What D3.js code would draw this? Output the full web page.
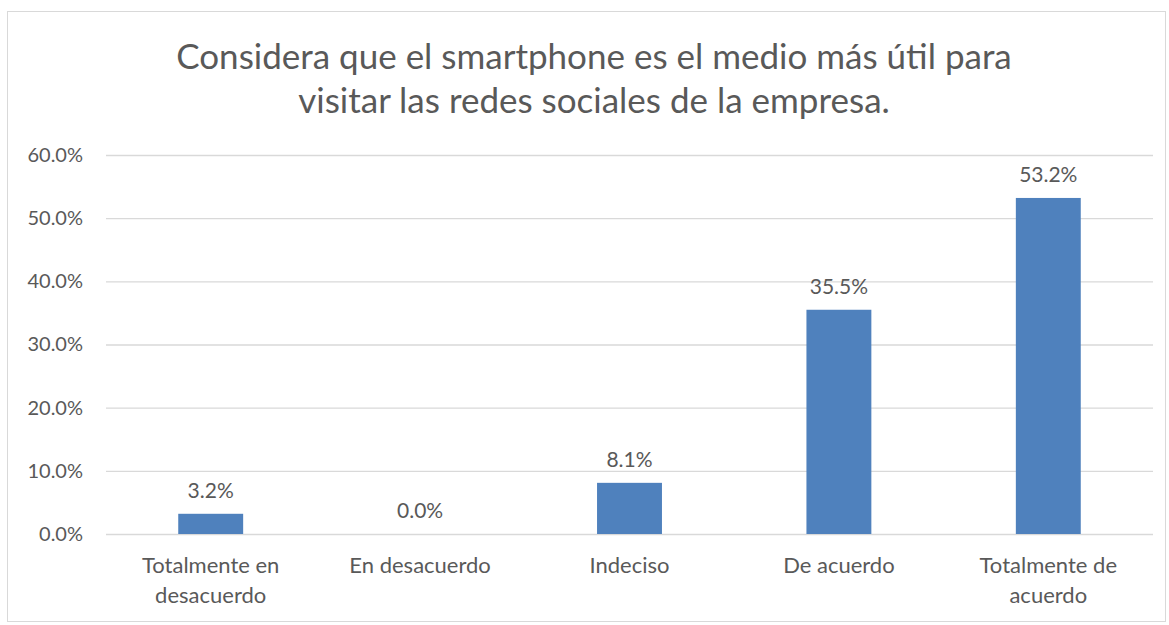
<!DOCTYPE html>
<html lang="es">
<head>
<meta charset="UTF-8">
<title>Smartphone redes sociales</title>
<script src="https://cdn.jsdelivr.net/npm/d3@7"></script>
<style>
  body { margin: 0; background: #fff; }
  svg text { font-family: Lato, "Open Sans", sans-serif; fill: #595959; }
</style>
</head>
<body>
<svg width="1169" height="625"></svg>
<script>
// chart data
const categories = ["Totalmente en desacuerdo", "En desacuerdo", "Indeciso", "De acuerdo", "Totalmente de acuerdo"];
const categoryLines = [["Totalmente en", "desacuerdo"], ["En desacuerdo"], ["Indeciso"], ["De acuerdo"], ["Totalmente de", "acuerdo"]];
const values = [0.032, 0.0, 0.081, 0.355, 0.532];
const yTicks = [0, 0.1, 0.2, 0.3, 0.4, 0.5, 0.6];
const titleLines = ["Considera que el smartphone es el medio más útil para", "visitar las redes sociales de la empresa."];

const svg = d3.select("svg");

// outer frame
svg.append("rect")
  .attr("x", 7.5).attr("y", 11.5)
  .attr("width", 1158).attr("height", 610)
  .attr("fill", "#fff").attr("stroke", "#d9d9d9");

const plotLeft = 106, plotRight = 1153, plotTop = 155, plotBottom = 534;

const x = d3.scaleBand()
  .domain(categories)
  .range([plotLeft, plotRight])
  .paddingInner(0.69)
  .paddingOuter(0.345);

const y = d3.scaleLinear().domain([0, 0.6]).range([plotBottom, plotTop]);

// title
svg.append("g").selectAll("text")
  .data(titleLines)
  .enter().append("text")
  .attr("x", 594)
  .attr("y", (d, i) => 69 + i * 44)
  .attr("text-anchor", "middle")
  .style("font-size", "35px")
  .text(d => d);

// grid + y labels
const yAxis = d3.axisLeft(y)
  .tickValues(yTicks)
  .tickSize(-(plotRight - plotLeft))
  .tickPadding(23)
  .tickFormat(d3.format(".1%"));

svg.append("g")
  .attr("transform", `translate(${plotLeft},0)`)
  .call(yAxis)
  .call(g => g.select(".domain").remove())
  .call(g => g.selectAll(".tick line").attr("stroke", "#d9d9d9").attr("stroke-width", 1.3))
  .call(g => g.selectAll(".tick text").style("font-size", "20px").attr("fill", "#595959"));

// bars
svg.append("g").selectAll("rect")
  .data(values)
  .enter().append("rect")
  .attr("x", (d, i) => x(categories[i]))
  .attr("y", d => y(d))
  .attr("width", x.bandwidth())
  .attr("height", d => plotBottom - y(d))
  .attr("fill", "#4f81bd");

// value labels
svg.append("g").selectAll("text")
  .data(values)
  .enter().append("text")
  .attr("x", (d, i) => x(categories[i]) + x.bandwidth() / 2)
  .attr("y", d => y(d) - 16)
  .attr("text-anchor", "middle")
  .style("font-size", "21px")
  .text(d => d3.format(".1%")(d));

// category labels
const cat = svg.append("g").selectAll("text")
  .data(categoryLines)
  .enter().append("text")
  .attr("x", (d, i) => x(categories[i]) + x.bandwidth() / 2)
  .attr("y", 573)
  .attr("text-anchor", "middle")
  .style("font-size", "22px");

cat.selectAll("tspan")
  .data(d => d)
  .enter().append("tspan")
  .attr("x", function () { return d3.select(this.parentNode).attr("x"); })
  .attr("dy", (d, i) => i === 0 ? 0 : 30)
  .text(d => d);
</script>
</body>
</html>
